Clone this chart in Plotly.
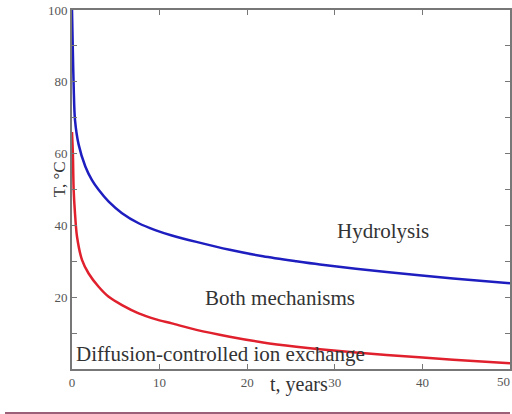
import plotly.graph_objects as go

# time, years  /  temperature, deg C
t_hydro = [0, 0.1, 0.2, 0.34, 0.76, 1.52, 2.28, 3.04, 4.19, 5.71, 7.61, 9.5, 11.4, 14.2, 18, 21.8, 25.6, 28.3, 35.9, 43.5, 50]
T_hydro = [100, 88, 78, 69.4, 62.5, 56.4, 52.6, 49.9, 46.6, 43.4, 40.6, 38.7, 37.2, 35.4, 33.2, 31.4, 30.0, 29.1, 27.0, 25.2, 23.9]

t_diff = [0, 0.1, 0.19, 0.34, 0.57, 1.14, 1.9, 3.04, 4.19, 5.71, 7.61, 9.5, 11.4, 14.2, 18, 21.8, 25.6, 28.3, 35.9, 43.5, 50]
T_diff = [66, 60, 49.9, 43.4, 36.9, 30.4, 26.6, 22.9, 20.1, 17.8, 15.5, 13.9, 12.7, 10.9, 9.0, 7.4, 6.2, 5.5, 3.9, 2.6, 1.6]

x_ticks = [0, 10, 20, 30, 40, 50]
x_ticktext = ["0", "10", "20", "30", "40", ""]
x_edge_label = "50"
y_ticks = [20, 40, 60, 80, 100]
y_minor = [10, 30, 50, 70, 90]

region_labels = ["Hydrolysis", "Both mechanisms", "Diffusion-controlled ion exchange"]
label_x = [35.5, 23.7, 17.0]
label_y = [38.4, 19.8, 4.2]

SERIF = "Liberation Serif, Times New Roman, serif"

fig = go.Figure()
fig.add_trace(go.Scatter(x=t_hydro, y=T_hydro, mode="lines",
                         line=dict(color="#1e1ec0", width=2.5, shape="spline", smoothing=0.8), showlegend=False))
fig.add_trace(go.Scatter(x=t_diff, y=T_diff, mode="lines",
                         line=dict(color="#e0202c", width=2.5, shape="spline", smoothing=0.8), showlegend=False))

for txt, xx, yy in zip(region_labels, label_x, label_y):
    fig.add_annotation(x=xx, y=yy, text=txt, showarrow=False, xref="x", yref="y",
                       font=dict(family=SERIF, size=21, color="#333333"))

fig.add_annotation(x=x_ticks[-1], y=0, xref="x", yref="y", yanchor="top", yshift=-3,
                   xanchor="right", xshift=2, text=x_edge_label, showarrow=False,
                   font=dict(family=SERIF, size=13, color="#555555"))

fig.add_annotation(x=-0.055, y=0.53, xref="paper", yref="paper", text="T, °C", textangle=-90,
                   showarrow=False, font=dict(family=SERIF, size=17, color="#333333"))
fig.add_annotation(x=0.518, y=-0.082, xref="paper", yref="paper", text="t, years",
                   showarrow=False, font=dict(family=SERIF, size=20, color="#333333"))

fig.add_shape(type="line", xref="paper", yref="paper", x0=-0.153, x1=1.0, y0=-0.1226, y1=-0.1226,
              line=dict(color="#7b2d4b", width=1.5))

fig.update_xaxes(range=[0, 50], tickvals=x_ticks, ticktext=x_ticktext, ticks="inside", ticklen=5,
                 tickcolor="#777777", showline=True, linecolor="#777777", linewidth=2, mirror="ticks",
                 showgrid=False, zeroline=False, automargin=False,
                 tickfont=dict(family=SERIF, size=13, color="#555555"))
fig.update_yaxes(range=[0, 100], tickvals=y_ticks, ticks="inside", ticklen=5, tickcolor="#777777",
                 minor=dict(tickvals=y_minor, ticks="inside", ticklen=5, tickcolor="#777777"),
                 showline=True, linecolor="#777777", linewidth=2, mirror="ticks", showgrid=False,
                 zeroline=False, ticklabelstandoff=0, automargin=False,
                 tickfont=dict(family=SERIF, size=13, color="#555555"))

fig.update_layout(width=512, height=414, margin=dict(l=72, r=2, t=10, b=45, autoexpand=False),
                  plot_bgcolor="white", paper_bgcolor="white")

fig.write_html("out.html", config={"displayModeBar": False},
               post_script="document.body.style.margin='0';document.documentElement.style.overflow='hidden';document.body.style.overflow='hidden';")
